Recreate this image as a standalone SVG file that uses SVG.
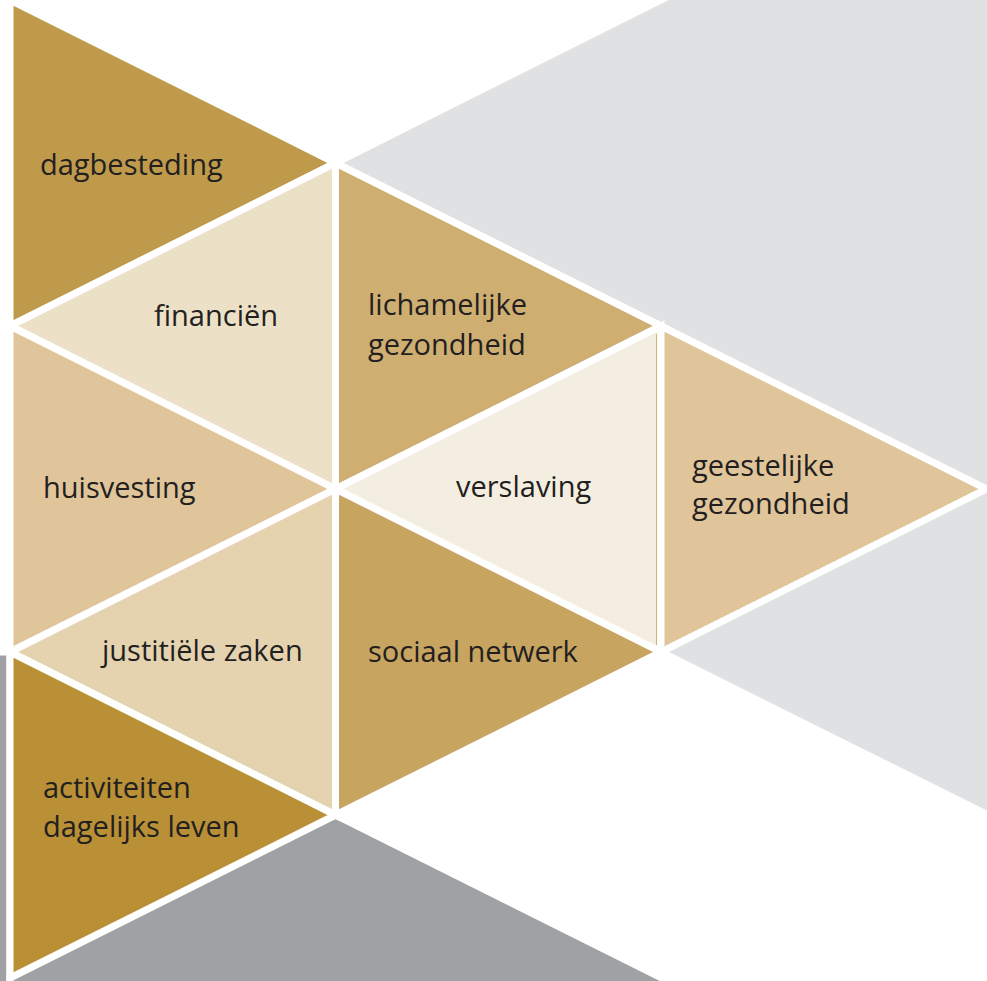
<svg xmlns="http://www.w3.org/2000/svg" width="987" height="981" viewBox="0 0 987 981">
<style>
.tri{stroke:#ffffff;stroke-width:7;stroke-linejoin:miter;stroke-miterlimit:10}
.lbl{font-family:"Open Sans","Noto Sans","Liberation Sans",sans-serif;font-size:29px;fill:#231f20}
</style>
<rect x="0" y="0" width="987" height="981" fill="#ffffff"/>
<g id="background">
<polygon class="tri" fill="#e0e1e3" points="335.5,163 681,-10 1010,-10 1010,826 661,652 661,326"/>
<polygon class="tri" fill="#a0a1a5" points="-60,652 10,652 10,1010 -60,1010"/>
<polygon class="tri" fill="#a0a1a5" points="335.5,815 720,1007.25 10,1010 10,978"/>
</g>
<g id="dagbesteding">
<polygon class="tri" fill="#c09a4b" points="10,0 335.5,163 10,326"/>
<text class="lbl" x="40" y="175">dagbesteding</text>
</g>
<g id="financien">
<polygon class="tri" fill="#ece0c6" points="335.5,163 335.5,489 10,326"/>
<text class="lbl" x="154" y="326">financiën</text>
</g>
<g id="lichamelijke-gezondheid">
<polygon class="tri" fill="#cfae72" points="335.5,163 661,326 335.5,489"/>
<text class="lbl" x="368" y="315">lichamelijke</text>
<text class="lbl" x="368" y="355">gezondheid</text>
</g>
<g id="huisvesting">
<polygon class="tri" fill="#e0c59a" points="10,326 335.5,489 10,652"/>
<text class="lbl" x="43" y="498">huisvesting</text>
</g>
<g id="verslaving">
<polygon class="tri" fill="#f4eee1" points="661,326 661,652 335.5,489"/>
<line x1="656.5" y1="334" x2="656.5" y2="645" stroke="#d4b57e" stroke-width="1"/>
<text class="lbl" x="456" y="497">verslaving</text>
</g>
<g id="geestelijke-gezondheid">
<polygon class="tri" fill="#e0c59a" points="661,326 986.5,489 661,652"/>
<text class="lbl" x="692" y="476">geestelijke</text>
<text class="lbl" x="692" y="514">gezondheid</text>
</g>
<g id="justitiele-zaken">
<polygon class="tri" fill="#e5d3b0" points="335.5,489 335.5,815 10,652"/>
<text class="lbl" x="102" y="661">justitiële zaken</text>
</g>
<g id="sociaal-netwerk">
<polygon class="tri" fill="#c7a45f" points="335.5,489 661,652 335.5,815"/>
<text class="lbl" x="368" y="662">sociaal netwerk</text>
</g>
<g id="activiteiten-dagelijks-leven">
<polygon class="tri" fill="#b99035" points="10,652 335.5,815 10,978"/>
<text class="lbl" x="43" y="798">activiteiten</text>
<text class="lbl" x="43" y="837">dagelijks leven</text>
</g>
<g id="connectors"></g>
</svg>
